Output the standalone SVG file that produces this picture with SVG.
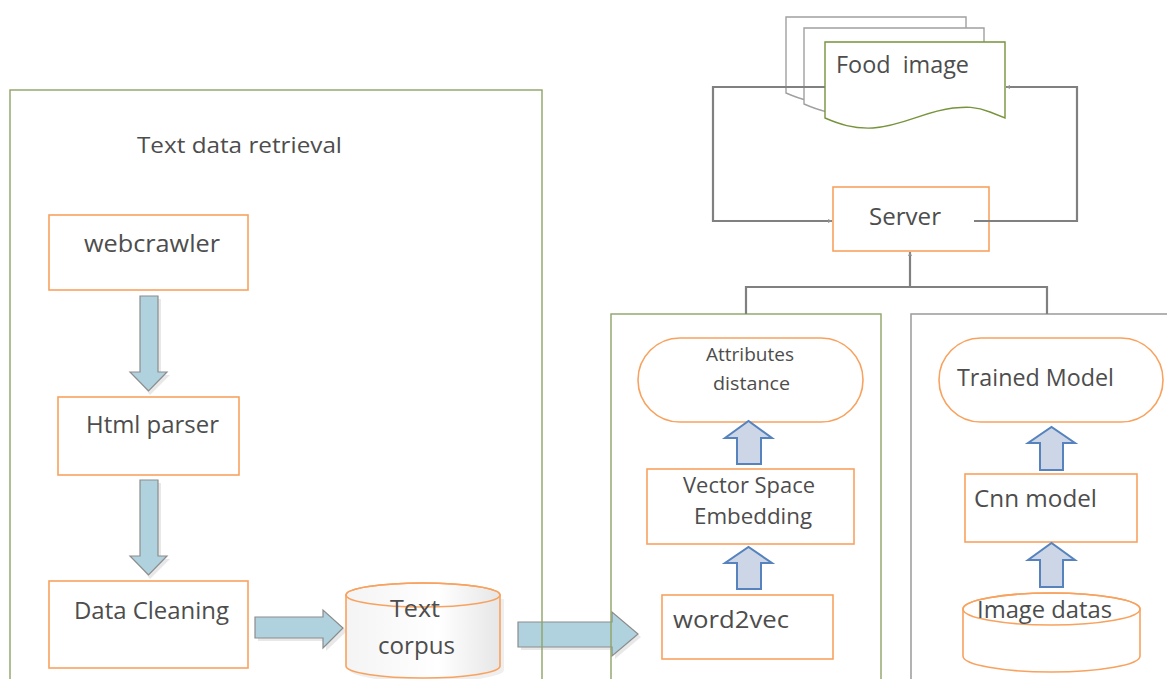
<svg xmlns="http://www.w3.org/2000/svg" width="1167" height="679" viewBox="0 0 1167 679">
<defs>
<style>
.txt{font-family:"Open Sans","Liberation Sans",sans-serif;fill:#4d4d4d;font-size:23px}
.sm{font-size:18px}
.md{font-size:21px}
.obox{fill:#fff;stroke:#f8a25f;stroke-width:1.6}
.frame{fill:none;stroke:#8ea465;stroke-width:1.4}
.gframe{fill:none;stroke:#a0a0a0;stroke-width:1.6}
.conn{fill:none;stroke:#808080;stroke-width:2.2}
.barrow{fill:#b0d2de;stroke:#8c8c8c;stroke-width:1.2}
.shadow{fill:#d8d8d8;opacity:0.6}
.uarrow{fill:#cdd6e6;stroke:#5683bd;stroke-width:2}
</style>
<linearGradient id="cyl" x1="0" y1="0" x2="1" y2="0">
<stop offset="0" stop-color="#f4f4f4"/>
<stop offset="0.6" stop-color="#ffffff"/>
<stop offset="1" stop-color="#e6e6e6"/>
</linearGradient>
<marker id="ah" viewBox="0 0 10 10" refX="10" refY="5" markerWidth="4" markerHeight="4" orient="auto" markerUnits="userSpaceOnUse">
<path d="M0,0 L10,5 L0,10 Z" fill="#909090"/>
</marker>
<path id="page" d="M0,0 H180 V76 L165,70 C150,64 140,65 128,66 C100,69 78,84 48,86 C28,87 14,82 0,76 Z"/>
</defs>

<!-- block arrows (under frames) -->
<g id="arrows-block">
<path class="shadow" d="M143,299 H161 V375 H170 L150,395 L134,375 H143 Z"/>
<path class="barrow" d="M140,296 H158 V372 H167 L148.5,391 L130,372 H140 Z"/>
<path class="shadow" d="M143,483 H161 V559 H170 L150,579 L134,559 H143 Z"/>
<path class="barrow" d="M140,480 H158 V556 H167 L148.5,575 L130,556 H140 Z"/>
<path class="shadow" d="M258,620 H326 V613 L347,631 L326,651 V641 H258 Z"/>
<path class="barrow" d="M255,617 H323 V610 L343,628 L323,648 V638 H255 Z"/>
<path class="shadow" d="M521,625 H615 V615 L641,637 L615,659 V650 H521 Z"/>
<path class="barrow" d="M518,622 H612 V612 L638,634 L612,656 V647 H518 Z"/>
</g>

<!-- frames -->
<g id="frame-text">
<rect class="frame" x="10" y="90" width="532" height="620"/>
<text class="txt" x="137" y="153" style="font-size:22px" textLength="205" lengthAdjust="spacingAndGlyphs">Text data retrieval</text>
</g>
<g id="frame-middle"><rect class="frame" x="611" y="314" width="270" height="400"/></g>
<g id="frame-right"><rect class="gframe" x="911" y="314" width="300" height="400"/></g>

<!-- left column nodes -->
<g id="webcrawler">
<rect class="obox" x="49" y="215" width="199" height="75"/>
<text class="txt" x="84" y="252" textLength="136" lengthAdjust="spacingAndGlyphs">webcrawler</text>
</g>
<g id="html-parser">
<rect class="obox" x="58" y="397" width="181" height="78"/>
<text class="txt" x="86" y="433" textLength="133" lengthAdjust="spacingAndGlyphs">Html parser</text>
</g>
<g id="data-cleaning">
<rect class="obox" x="49" y="581" width="199" height="87"/>
<text class="txt" x="74" y="619" textLength="155" lengthAdjust="spacingAndGlyphs">Data Cleaning</text>
</g>
<g id="text-corpus">
<path d="M350,599 L350,670 A77,12 0 0 0 504,670 L504,599 Z" fill="#e4e4e4" opacity="0.6"/>
<path d="M346,595 L346,666 A77,12 0 0 0 500,666 L500,595 A77,12 0 0 0 346,595 Z" fill="url(#cyl)" stroke="#f8a25f" stroke-width="1.6"/>
<ellipse cx="423" cy="595" rx="77" ry="12" fill="none" stroke="#f8a25f" stroke-width="1.6"/>
<text class="txt" x="390" y="617" textLength="50" lengthAdjust="spacingAndGlyphs">Text</text>
<text class="txt" x="378" y="654" textLength="77" lengthAdjust="spacingAndGlyphs">corpus</text>
</g>

<!-- food image stack -->
<g id="food-image">
<use href="#page" x="786" y="17" fill="#fff" stroke="#a0a0a0" stroke-width="1.4"/>
<use href="#page" x="804" y="28" fill="#fff" stroke="#a0a0a0" stroke-width="1.4"/>
<use href="#page" x="825" y="42" fill="#fff" stroke="#77933c" stroke-width="1.4"/>
<text class="txt" x="836" y="73" xml:space="preserve" textLength="133" lengthAdjust="spacingAndGlyphs">Food  image</text>
</g>

<g id="server">
<rect class="obox" x="833" y="187" width="156" height="64"/>
<text class="txt" x="869" y="225" textLength="72" lengthAdjust="spacingAndGlyphs">Server</text>
</g>

<!-- middle column -->
<g id="attributes-distance">
<rect class="obox" x="638" y="338" width="225" height="84" rx="42" ry="42"/>
<text class="txt sm" x="706" y="361" textLength="88" lengthAdjust="spacingAndGlyphs">Attributes</text>
<text class="txt sm" x="713" y="390" textLength="77" lengthAdjust="spacingAndGlyphs">distance</text>
</g>
<g id="vector-space">
<rect class="obox" x="647" y="469" width="207" height="75"/>
<text class="txt md" x="683" y="493" textLength="132" lengthAdjust="spacingAndGlyphs">Vector Space</text>
<text class="txt md" x="694" y="524" textLength="118" lengthAdjust="spacingAndGlyphs">Embedding</text>
</g>
<g id="word2vec">
<rect class="obox" x="662" y="595" width="171" height="64"/>
<text class="txt" x="673" y="628" textLength="116" lengthAdjust="spacingAndGlyphs">word2vec</text>
</g>

<!-- right column -->
<g id="trained-model">
<rect class="obox" x="939" y="338" width="224" height="84" rx="42" ry="42"/>
<text class="txt" x="957" y="386" textLength="157" lengthAdjust="spacingAndGlyphs">Trained Model</text>
</g>
<g id="cnn-model">
<rect class="obox" x="965" y="474" width="172" height="68"/>
<text class="txt" x="974" y="507" textLength="123" lengthAdjust="spacingAndGlyphs">Cnn model</text>
</g>
<g id="image-datas">
<path d="M963,609 L963,656 A88.5,16 0 0 0 1140,656 L1140,609 A88.5,16 0 0 0 963,609 Z" fill="#fff" stroke="#f8a25f" stroke-width="1.6"/>
<ellipse cx="1051.5" cy="609" rx="88.5" ry="16" fill="none" stroke="#f8a25f" stroke-width="1.6"/>
<text class="txt" x="977" y="618" textLength="135" lengthAdjust="spacingAndGlyphs">Image datas</text>
</g>

<!-- up arrows -->
<g id="arrows-up">
<path class="uarrow" d="M737,464 V438 H725 L748.5,421 L772,438 H761 V464 Z"/>
<path class="uarrow" d="M737,589 V563 H725 L748.5,547 L772,563 H761 V589 Z"/>
<path class="uarrow" d="M1040,470 V443 H1028 L1051.5,427 L1075,443 H1063 V470 Z"/>
<path class="uarrow" d="M1040,587 V560 H1028 L1051.5,543 L1075,560 H1063 V587 Z"/>
</g>

<!-- connectors -->
<g id="connectors">
<path class="conn" d="M825,87 H713 V221 H832" marker-end="url(#ah)"/>
<path class="conn" d="M974,221 H1077 V87 H1006" marker-end="url(#ah)"/>
<path class="conn" d="M746,314 V287 H1047 V314"/>
<path class="conn" d="M910,287 V252" marker-end="url(#ah)"/>
</g>
</svg>
